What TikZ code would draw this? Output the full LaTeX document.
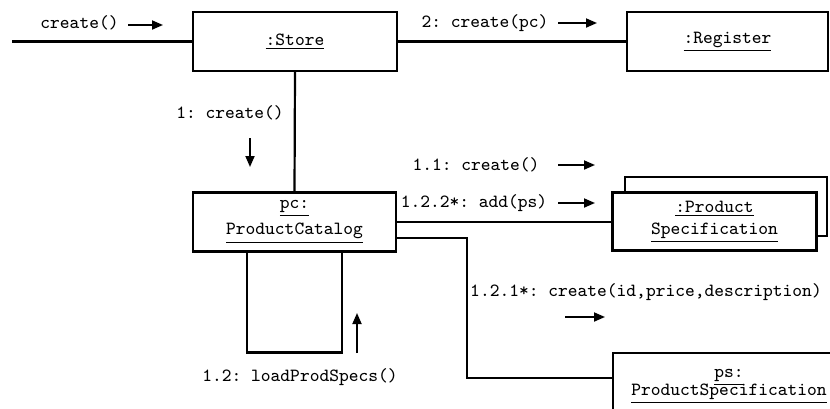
\documentclass[tikz,border=0pt]{standalone}
\usetikzlibrary{arrows.meta}
\frenchspacing
\begin{document}
\begin{tikzpicture}[x=0.5pt,y=-0.5pt,line width=1.1pt,
  every node/.style={font=\fontsize{9.3}{11}\selectfont\ttfamily, inner sep=0pt, outer sep=0pt},
  obj/.style={draw, fill=white, align=center, minimum width=#1, minimum height=29.5pt},
  obj/.default=102pt,
  msg/.style={line width=0.9pt, -{Triangle[length=5.5pt,width=4.5pt]}}]

\useasboundingbox (0,0) rectangle (830,408);

\node[obj] (store) at (295,41.5) {\underline{:Store}};
\node[obj=100.5pt] (register) at (727.5,41.5) {\underline{:Register}};
\node[obj=101.5pt] (pc) at (294.5,222) {\underline{pc:}\\[2pt]\underline{ProductCatalog}};
\draw[fill=white] (625,177) rectangle (827,236);
\node[obj, minimum height=29pt] (spec) at (714.5,221.5) {\underline{:Product}\\\underline{Specification}};
\node[obj=116pt, minimum height=33.5pt] (ps) at (729,386.5) {\underline{ps:}\\[-2pt]\underline{ProductSpecification}};

\coordinate (start) at (12,41.5);
\draw (start) -- (store.west);
\draw (store.east) -- (register.west);
\draw (store.south) -- (pc.north);
\draw ([xshift=-23.75pt]pc.south) -- ++(0,101) -| ([xshift=23.75pt]pc.south);
\draw (pc.east) -- (pc.east -| spec.west);
\draw ([yshift=-8pt]pc.east) -- ++(71,0) |- ([yshift=4.25pt]ps.west);

\node (m0) at (79.5,23) {create()};
\node (m2) at (485,23) {2: create(pc)};
\node (m1) at (230,113) {1: create()};
\node (m12) at (300,377) {1.2: loadProdSpecs()};
\node (m11) at (476,165) {1.1: create()};
\node (m122) at (474,203) {1.2.2*: add(ps)};
\node (m121) at (646,292) {1.2.1*: create(id,price,description)};

\draw[msg] (128,25) -- (163,25);
\draw[msg] (558,23) -- (597,23);
\draw[msg] (250,138) -- (250,167);
\draw[msg] (357,353) -- (357,313);
\draw[msg] (558,165) -- (595,165);
\draw[msg] (558,203) -- (595,203);
\draw[msg] (565,317) -- (605,317);
\end{tikzpicture}
\end{document}
